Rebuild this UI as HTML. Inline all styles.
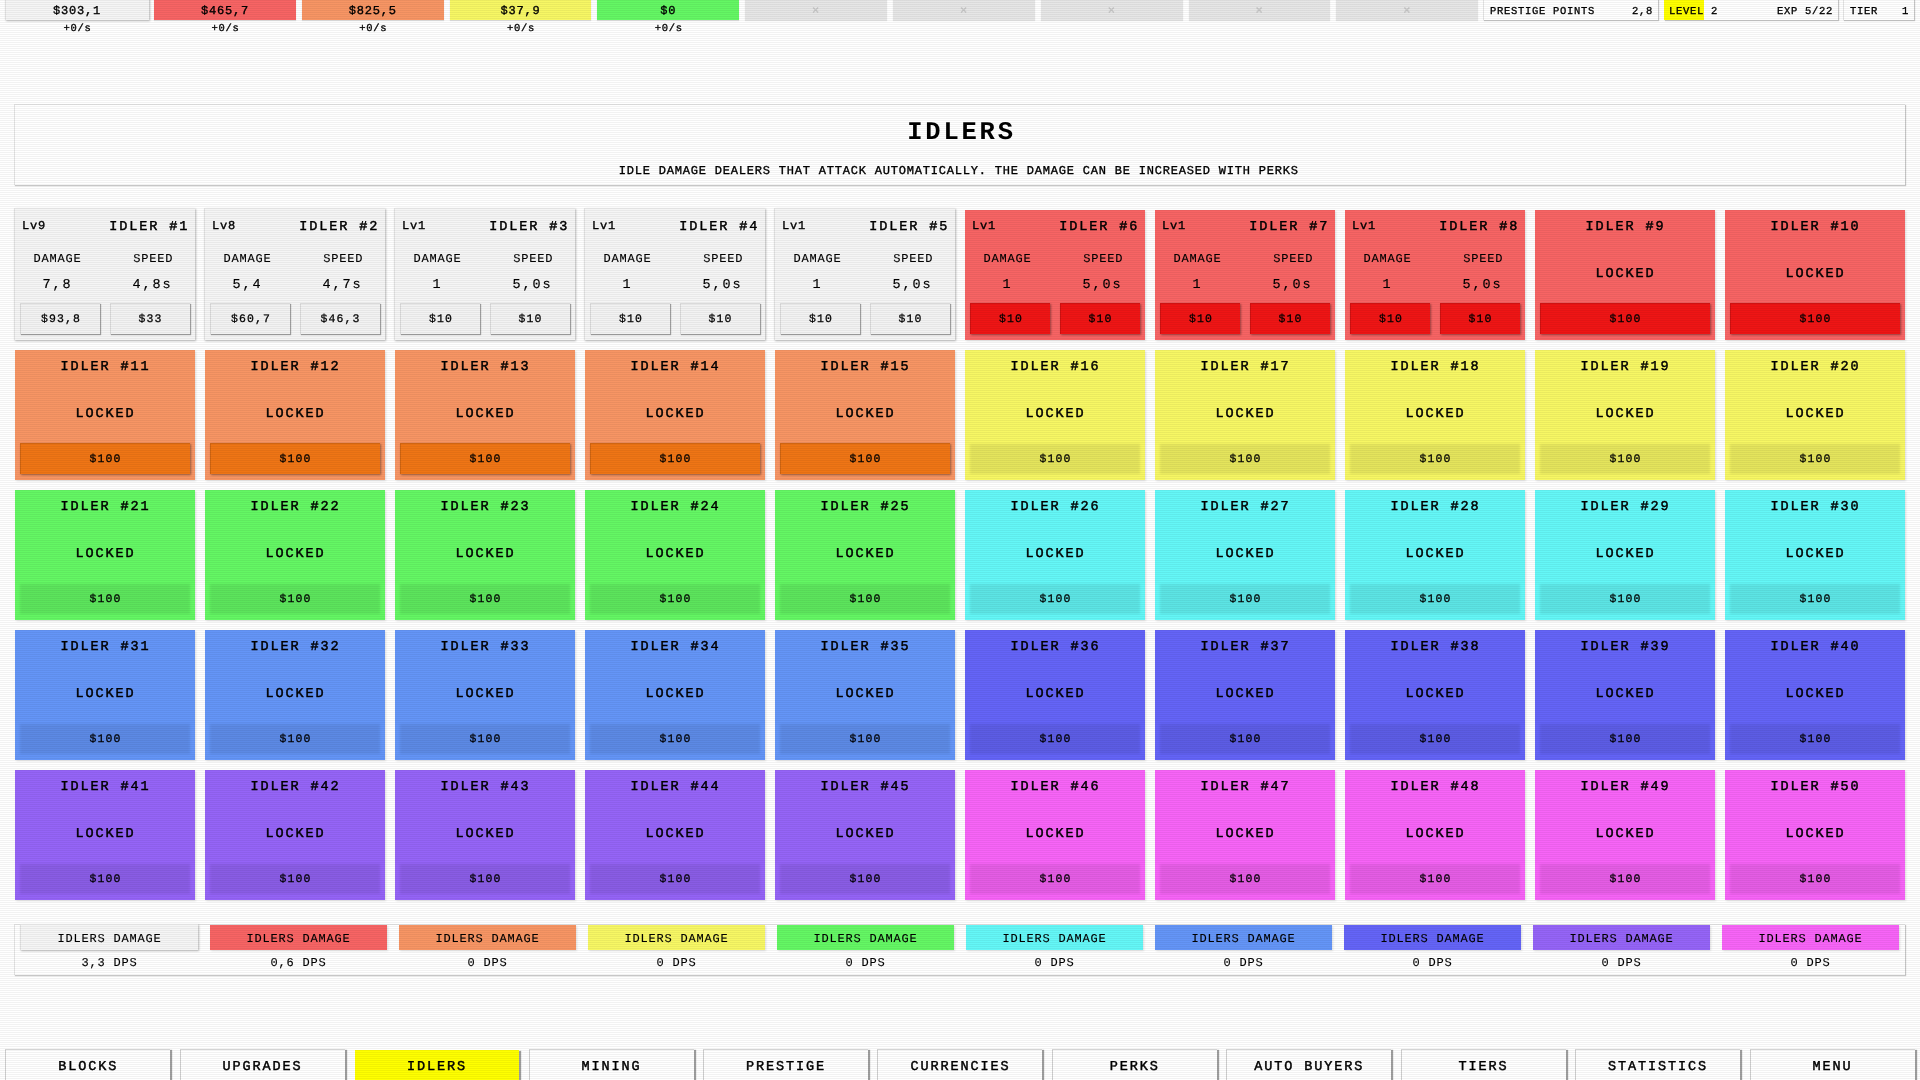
<!DOCTYPE html><html><head><meta charset="utf-8"><title>Idlers</title><style>
*{margin:0;padding:0;box-sizing:border-box}
html,body{width:1920px;height:1080px;overflow:hidden;background:#fff;font-family:"Liberation Mono", monospace;color:#000;text-rendering:geometricPrecision}
.wrap{position:absolute;left:0;top:0;width:1920px;height:1080px;will-change:transform;overflow:hidden}
.a{position:absolute}
.t{position:absolute;white-space:pre;line-height:1}
.n{font-size:12px;letter-spacing:0.8px;-webkit-text-stroke-width:0.35px}
.s{font-size:10.5px;letter-spacing:0.7px;-webkit-text-stroke-width:0.3px}
.h{font-size:13.5px;letter-spacing:1.9px;-webkit-text-stroke-width:0.45px}
.b{font-size:11.5px;letter-spacing:1.1px;-webkit-text-stroke-width:0.25px}
.l{font-size:12px;letter-spacing:0.8px;-webkit-text-stroke-width:0.12px}
.v{font-size:13.5px;letter-spacing:1.9px;-webkit-text-stroke-width:0.15px}
.c{text-align:center}
.scan{position:absolute;left:0;top:0;width:1920px;height:1080px;pointer-events:none;
 background:repeating-linear-gradient(to bottom, rgba(0,0,0,0.05) 0px, rgba(0,0,0,0.05) 1px, transparent 1px, transparent 2px)}
.wbox{background:#f5f5f5;border-left:1px solid #e2e2e2;border-top:1px solid #eeeeee;box-shadow:1px 1px 2px rgba(0,0,0,0.28)}
.pbox{background:#fff;border-left:1px solid #e4e4e4;border-top:1px solid #e4e4e4;box-shadow:1px 1px 1px rgba(0,0,0,0.22)}
.tab{background:#fff;border-left:1px solid #cfcfcf;border-top:1px solid #d4d4d4;box-shadow:2px 1px 1px rgba(0,0,0,0.38)}
.ccard{box-shadow:1px 1px 2px rgba(0,0,0,0.12)}
.dbtn{background:rgba(0,0,0,0.075);filter:blur(0.8px)}
.panel{background:#fff;border-left:1px solid #e4e4e4;border-top:1px solid #e4e4e4;box-shadow:1px 1px 1px rgba(0,0,0,0.22)}
.card{}
.btn{border-left:1px solid rgba(0,0,0,0.13);border-top:1px solid rgba(0,0,0,0.13);box-shadow:1px 1px 2px rgba(0,0,0,0.38)}
.wbtn{background:#f2f2f2;border-left:1px solid #dadada;border-top:1px solid #dadada;box-shadow:1px 1px 1px rgba(0,0,0,0.35)}
.lbtn{}
</style></head><body><div class="wrap"><div class="a wbox" style="left:5px;top:-4px;width:143.5px;height:24px"></div>
<div class="a" style="left:154.0px;top:-4px;width:141.8px;height:24px;background:#f76464;box-shadow:0 1px 1px rgba(0,0,0,0.12)"></div>
<div class="a" style="left:301.8px;top:-4px;width:141.8px;height:24px;background:#f79564;box-shadow:0 1px 1px rgba(0,0,0,0.12)"></div>
<div class="a" style="left:449.6px;top:-4px;width:141.8px;height:24px;background:#f7f764;box-shadow:0 1px 1px rgba(0,0,0,0.12)"></div>
<div class="a" style="left:597.4px;top:-4px;width:141.8px;height:24px;background:#64f764;box-shadow:0 1px 1px rgba(0,0,0,0.12)"></div>
<div class="a" style="left:745.2px;top:-4px;width:141.8px;height:24px;background:#e6e6e6;box-shadow:0 1px 1px rgba(0,0,0,0.1)"></div>
<div class="a" style="left:893.0px;top:-4px;width:141.8px;height:24px;background:#e6e6e6;box-shadow:0 1px 1px rgba(0,0,0,0.1)"></div>
<div class="a" style="left:1040.8px;top:-4px;width:141.8px;height:24px;background:#e6e6e6;box-shadow:0 1px 1px rgba(0,0,0,0.1)"></div>
<div class="a" style="left:1188.6px;top:-4px;width:141.8px;height:24px;background:#e6e6e6;box-shadow:0 1px 1px rgba(0,0,0,0.1)"></div>
<div class="a" style="left:1336.4px;top:-4px;width:141.8px;height:24px;background:#e6e6e6;box-shadow:0 1px 1px rgba(0,0,0,0.1)"></div>
<div class="t n c" style="left:5.0px;top:5px;width:144px;">$303,1</div>
<div class="t s c" style="left:5.5px;top:24px;width:144px;">+0/s</div>
<div class="t n c" style="left:154.0px;top:5px;width:141.8px;">$465,7</div>
<div class="t s c" style="left:154.5px;top:24px;width:141.8px;">+0/s</div>
<div class="t n c" style="left:301.8px;top:5px;width:141.8px;">$825,5</div>
<div class="t s c" style="left:302.3px;top:24px;width:141.8px;">+0/s</div>
<div class="t n c" style="left:449.6px;top:5px;width:141.8px;">$37,9</div>
<div class="t s c" style="left:450.1px;top:24px;width:141.8px;">+0/s</div>
<div class="t n c" style="left:597.4px;top:5px;width:141.8px;">$0</div>
<div class="t s c" style="left:597.9px;top:24px;width:141.8px;">+0/s</div>
<div class="t n c" style="left:745.2px;top:5px;width:141.8px;color:#c6c6c6">×</div>
<div class="t n c" style="left:893.0px;top:5px;width:141.8px;color:#c6c6c6">×</div>
<div class="t n c" style="left:1040.8px;top:5px;width:141.8px;color:#c6c6c6">×</div>
<div class="t n c" style="left:1188.6px;top:5px;width:141.8px;color:#c6c6c6">×</div>
<div class="t n c" style="left:1336.4px;top:5px;width:141.8px;color:#c6c6c6">×</div>
<div class="a pbox" style="left:1483px;top:-4px;width:175px;height:24px"></div>
<div class="t s" style="left:1490px;top:7px;">PRESTIGE POINTS</div>
<div class="t s" style="left:1632px;top:7px;">2,8</div>
<div class="a pbox" style="left:1664px;top:-4px;width:174px;height:24px"></div>
<div class="a" style="left:1664px;top:-4px;width:40px;height:24px;background:#ffff00"></div>
<div class="t s" style="left:1669px;top:7px;">LEVEL 2</div>
<div class="t s" style="left:1777px;top:7px;">EXP 5/22</div>
<div class="a pbox" style="left:1843px;top:-4px;width:71px;height:24px"></div>
<div class="t s" style="left:1850px;top:7px;">TIER</div>
<div class="t s" style="left:1902px;top:7px;">1</div>
<div class="a panel" style="left:14px;top:104px;width:1891px;height:81px"></div>
<div class="t h c" style="left:1.5px;top:120px;width:1920px;font-size:25.5px;letter-spacing:2.8px;font-weight:bold;-webkit-text-stroke:0">IDLERS</div>
<div class="t n c" style="left:-1.25px;top:165px;width:1920px;">IDLE DAMAGE DEALERS THAT ATTACK AUTOMATICALLY. THE DAMAGE CAN BE INCREASED WITH PERKS</div>
<div class="a wbox" style="left:14px;top:208px;width:181px;height:132px"></div>
<div class="t n" style="left:22px;top:220px;">Lv9</div>
<div class="t h c" style="left:15px;top:221px;width:174.2px;text-align:right">IDLER #1</div>
<div class="t l c" style="left:17.5px;top:253px;width:80px;">DAMAGE</div>
<div class="t l c" style="left:113.30000000000001px;top:253px;width:80px;">SPEED</div>
<div class="t v c" style="left:17.5px;top:279px;width:80px;">7,8</div>
<div class="t v c" style="left:112.5px;top:279px;width:80px;">4,8s</div>
<div class="a wbtn" style="left:20px;top:303px;width:80px;height:31px"></div>
<div class="t b c" style="left:21px;top:314px;width:80px;">$93,8</div>
<div class="a wbtn" style="left:109.5px;top:303px;width:80.5px;height:31px"></div>
<div class="t b c" style="left:110.5px;top:314px;width:80px;">$33</div>
<div class="a wbox" style="left:204px;top:208px;width:181px;height:132px"></div>
<div class="t n" style="left:212px;top:220px;">Lv8</div>
<div class="t h c" style="left:205px;top:221px;width:174.2px;text-align:right">IDLER #2</div>
<div class="t l c" style="left:207.5px;top:253px;width:80px;">DAMAGE</div>
<div class="t l c" style="left:303.3px;top:253px;width:80px;">SPEED</div>
<div class="t v c" style="left:207.5px;top:279px;width:80px;">5,4</div>
<div class="t v c" style="left:302.5px;top:279px;width:80px;">4,7s</div>
<div class="a wbtn" style="left:210px;top:303px;width:80px;height:31px"></div>
<div class="t b c" style="left:211px;top:314px;width:80px;">$60,7</div>
<div class="a wbtn" style="left:299.5px;top:303px;width:80.5px;height:31px"></div>
<div class="t b c" style="left:300.5px;top:314px;width:80px;">$46,3</div>
<div class="a wbox" style="left:394px;top:208px;width:181px;height:132px"></div>
<div class="t n" style="left:402px;top:220px;">Lv1</div>
<div class="t h c" style="left:395px;top:221px;width:174.2px;text-align:right">IDLER #3</div>
<div class="t l c" style="left:397.5px;top:253px;width:80px;">DAMAGE</div>
<div class="t l c" style="left:493.29999999999995px;top:253px;width:80px;">SPEED</div>
<div class="t v c" style="left:397.5px;top:279px;width:80px;">1</div>
<div class="t v c" style="left:492.5px;top:279px;width:80px;">5,0s</div>
<div class="a wbtn" style="left:400px;top:303px;width:80px;height:31px"></div>
<div class="t b c" style="left:401px;top:314px;width:80px;">$10</div>
<div class="a wbtn" style="left:489.5px;top:303px;width:80.5px;height:31px"></div>
<div class="t b c" style="left:490.5px;top:314px;width:80px;">$10</div>
<div class="a wbox" style="left:584px;top:208px;width:181px;height:132px"></div>
<div class="t n" style="left:592px;top:220px;">Lv1</div>
<div class="t h c" style="left:585px;top:221px;width:174.2px;text-align:right">IDLER #4</div>
<div class="t l c" style="left:587.5px;top:253px;width:80px;">DAMAGE</div>
<div class="t l c" style="left:683.3px;top:253px;width:80px;">SPEED</div>
<div class="t v c" style="left:587.5px;top:279px;width:80px;">1</div>
<div class="t v c" style="left:682.5px;top:279px;width:80px;">5,0s</div>
<div class="a wbtn" style="left:590px;top:303px;width:80px;height:31px"></div>
<div class="t b c" style="left:591px;top:314px;width:80px;">$10</div>
<div class="a wbtn" style="left:679.5px;top:303px;width:80.5px;height:31px"></div>
<div class="t b c" style="left:680.5px;top:314px;width:80px;">$10</div>
<div class="a wbox" style="left:774px;top:208px;width:181px;height:132px"></div>
<div class="t n" style="left:782px;top:220px;">Lv1</div>
<div class="t h c" style="left:775px;top:221px;width:174.2px;text-align:right">IDLER #5</div>
<div class="t l c" style="left:777.5px;top:253px;width:80px;">DAMAGE</div>
<div class="t l c" style="left:873.3px;top:253px;width:80px;">SPEED</div>
<div class="t v c" style="left:777.5px;top:279px;width:80px;">1</div>
<div class="t v c" style="left:872.5px;top:279px;width:80px;">5,0s</div>
<div class="a wbtn" style="left:780px;top:303px;width:80px;height:31px"></div>
<div class="t b c" style="left:781px;top:314px;width:80px;">$10</div>
<div class="a wbtn" style="left:869.5px;top:303px;width:80.5px;height:31px"></div>
<div class="t b c" style="left:870.5px;top:314px;width:80px;">$10</div>
<div class="a ccard" style="left:965px;top:210px;width:180px;height:130px;background:#f76464"></div>
<div class="t n" style="left:972px;top:220px;">Lv1</div>
<div class="t h c" style="left:965px;top:221px;width:174.2px;text-align:right">IDLER #6</div>
<div class="t l c" style="left:967.5px;top:253px;width:80px;">DAMAGE</div>
<div class="t l c" style="left:1063.3px;top:253px;width:80px;">SPEED</div>
<div class="t v c" style="left:967.5px;top:279px;width:80px;">1</div>
<div class="t v c" style="left:1062.5px;top:279px;width:80px;">5,0s</div>
<div class="a btn" style="left:970px;top:303px;width:80px;height:31px;background:#ef1515"></div>
<div class="t b c" style="left:971px;top:314px;width:80px;">$10</div>
<div class="a btn" style="left:1059.5px;top:303px;width:80.5px;height:31px;background:#ef1515"></div>
<div class="t b c" style="left:1060.5px;top:314px;width:80px;">$10</div>
<div class="a ccard" style="left:1155px;top:210px;width:180px;height:130px;background:#f76464"></div>
<div class="t n" style="left:1162px;top:220px;">Lv1</div>
<div class="t h c" style="left:1155px;top:221px;width:174.2px;text-align:right">IDLER #7</div>
<div class="t l c" style="left:1157.5px;top:253px;width:80px;">DAMAGE</div>
<div class="t l c" style="left:1253.3px;top:253px;width:80px;">SPEED</div>
<div class="t v c" style="left:1157.5px;top:279px;width:80px;">1</div>
<div class="t v c" style="left:1252.5px;top:279px;width:80px;">5,0s</div>
<div class="a btn" style="left:1160px;top:303px;width:80px;height:31px;background:#ef1515"></div>
<div class="t b c" style="left:1161px;top:314px;width:80px;">$10</div>
<div class="a btn" style="left:1249.5px;top:303px;width:80.5px;height:31px;background:#ef1515"></div>
<div class="t b c" style="left:1250.5px;top:314px;width:80px;">$10</div>
<div class="a ccard" style="left:1345px;top:210px;width:180px;height:130px;background:#f76464"></div>
<div class="t n" style="left:1352px;top:220px;">Lv1</div>
<div class="t h c" style="left:1345px;top:221px;width:174.2px;text-align:right">IDLER #8</div>
<div class="t l c" style="left:1347.5px;top:253px;width:80px;">DAMAGE</div>
<div class="t l c" style="left:1443.3px;top:253px;width:80px;">SPEED</div>
<div class="t v c" style="left:1347.5px;top:279px;width:80px;">1</div>
<div class="t v c" style="left:1442.5px;top:279px;width:80px;">5,0s</div>
<div class="a btn" style="left:1350px;top:303px;width:80px;height:31px;background:#ef1515"></div>
<div class="t b c" style="left:1351px;top:314px;width:80px;">$10</div>
<div class="a btn" style="left:1439.5px;top:303px;width:80.5px;height:31px;background:#ef1515"></div>
<div class="t b c" style="left:1440.5px;top:314px;width:80px;">$10</div>
<div class="a ccard" style="left:1535px;top:210px;width:180px;height:130px;background:#f76464"></div>
<div class="t h c" style="left:1535.6px;top:221px;width:180px;">IDLER #9</div>
<div class="t h c" style="left:1535.5px;top:268px;width:180px;">LOCKED</div>
<div class="a btn" style="left:1540px;top:303px;width:169.5px;height:31px;background:#ef1515"></div>
<div class="t b c" style="left:1540.5px;top:314px;width:170px;">$100</div>
<div class="a ccard" style="left:1725px;top:210px;width:180px;height:130px;background:#f76464"></div>
<div class="t h c" style="left:1725.6px;top:221px;width:180px;">IDLER #10</div>
<div class="t h c" style="left:1725.5px;top:268px;width:180px;">LOCKED</div>
<div class="a btn" style="left:1730px;top:303px;width:169.5px;height:31px;background:#ef1515"></div>
<div class="t b c" style="left:1730.5px;top:314px;width:170px;">$100</div>
<div class="a ccard" style="left:15px;top:350px;width:180px;height:130px;background:#f79564"></div>
<div class="t h c" style="left:15.6px;top:361px;width:180px;">IDLER #11</div>
<div class="t h c" style="left:15.5px;top:408px;width:180px;">LOCKED</div>
<div class="a btn" style="left:20px;top:443px;width:169.5px;height:31px;background:#ef7515"></div>
<div class="t b c" style="left:20.5px;top:454px;width:170px;">$100</div>
<div class="a ccard" style="left:205px;top:350px;width:180px;height:130px;background:#f79564"></div>
<div class="t h c" style="left:205.6px;top:361px;width:180px;">IDLER #12</div>
<div class="t h c" style="left:205.5px;top:408px;width:180px;">LOCKED</div>
<div class="a btn" style="left:210px;top:443px;width:169.5px;height:31px;background:#ef7515"></div>
<div class="t b c" style="left:210.5px;top:454px;width:170px;">$100</div>
<div class="a ccard" style="left:395px;top:350px;width:180px;height:130px;background:#f79564"></div>
<div class="t h c" style="left:395.6px;top:361px;width:180px;">IDLER #13</div>
<div class="t h c" style="left:395.5px;top:408px;width:180px;">LOCKED</div>
<div class="a btn" style="left:400px;top:443px;width:169.5px;height:31px;background:#ef7515"></div>
<div class="t b c" style="left:400.5px;top:454px;width:170px;">$100</div>
<div class="a ccard" style="left:585px;top:350px;width:180px;height:130px;background:#f79564"></div>
<div class="t h c" style="left:585.6px;top:361px;width:180px;">IDLER #14</div>
<div class="t h c" style="left:585.5px;top:408px;width:180px;">LOCKED</div>
<div class="a btn" style="left:590px;top:443px;width:169.5px;height:31px;background:#ef7515"></div>
<div class="t b c" style="left:590.5px;top:454px;width:170px;">$100</div>
<div class="a ccard" style="left:775px;top:350px;width:180px;height:130px;background:#f79564"></div>
<div class="t h c" style="left:775.6px;top:361px;width:180px;">IDLER #15</div>
<div class="t h c" style="left:775.5px;top:408px;width:180px;">LOCKED</div>
<div class="a btn" style="left:780px;top:443px;width:169.5px;height:31px;background:#ef7515"></div>
<div class="t b c" style="left:780.5px;top:454px;width:170px;">$100</div>
<div class="a ccard" style="left:965px;top:350px;width:180px;height:130px;background:#f7f764"></div>
<div class="t h c" style="left:965.6px;top:361px;width:180px;">IDLER #16</div>
<div class="t h c" style="left:965.5px;top:408px;width:180px;">LOCKED</div>
<div class="a dbtn" style="left:970px;top:444px;width:170px;height:30px"></div>
<div class="t b c" style="left:970.5px;top:454px;width:170px;">$100</div>
<div class="a ccard" style="left:1155px;top:350px;width:180px;height:130px;background:#f7f764"></div>
<div class="t h c" style="left:1155.6px;top:361px;width:180px;">IDLER #17</div>
<div class="t h c" style="left:1155.5px;top:408px;width:180px;">LOCKED</div>
<div class="a dbtn" style="left:1160px;top:444px;width:170px;height:30px"></div>
<div class="t b c" style="left:1160.5px;top:454px;width:170px;">$100</div>
<div class="a ccard" style="left:1345px;top:350px;width:180px;height:130px;background:#f7f764"></div>
<div class="t h c" style="left:1345.6px;top:361px;width:180px;">IDLER #18</div>
<div class="t h c" style="left:1345.5px;top:408px;width:180px;">LOCKED</div>
<div class="a dbtn" style="left:1350px;top:444px;width:170px;height:30px"></div>
<div class="t b c" style="left:1350.5px;top:454px;width:170px;">$100</div>
<div class="a ccard" style="left:1535px;top:350px;width:180px;height:130px;background:#f7f764"></div>
<div class="t h c" style="left:1535.6px;top:361px;width:180px;">IDLER #19</div>
<div class="t h c" style="left:1535.5px;top:408px;width:180px;">LOCKED</div>
<div class="a dbtn" style="left:1540px;top:444px;width:170px;height:30px"></div>
<div class="t b c" style="left:1540.5px;top:454px;width:170px;">$100</div>
<div class="a ccard" style="left:1725px;top:350px;width:180px;height:130px;background:#f7f764"></div>
<div class="t h c" style="left:1725.6px;top:361px;width:180px;">IDLER #20</div>
<div class="t h c" style="left:1725.5px;top:408px;width:180px;">LOCKED</div>
<div class="a dbtn" style="left:1730px;top:444px;width:170px;height:30px"></div>
<div class="t b c" style="left:1730.5px;top:454px;width:170px;">$100</div>
<div class="a ccard" style="left:15px;top:490px;width:180px;height:130px;background:#64f764"></div>
<div class="t h c" style="left:15.6px;top:501px;width:180px;">IDLER #21</div>
<div class="t h c" style="left:15.5px;top:548px;width:180px;">LOCKED</div>
<div class="a dbtn" style="left:20px;top:584px;width:170px;height:30px"></div>
<div class="t b c" style="left:20.5px;top:594px;width:170px;">$100</div>
<div class="a ccard" style="left:205px;top:490px;width:180px;height:130px;background:#64f764"></div>
<div class="t h c" style="left:205.6px;top:501px;width:180px;">IDLER #22</div>
<div class="t h c" style="left:205.5px;top:548px;width:180px;">LOCKED</div>
<div class="a dbtn" style="left:210px;top:584px;width:170px;height:30px"></div>
<div class="t b c" style="left:210.5px;top:594px;width:170px;">$100</div>
<div class="a ccard" style="left:395px;top:490px;width:180px;height:130px;background:#64f764"></div>
<div class="t h c" style="left:395.6px;top:501px;width:180px;">IDLER #23</div>
<div class="t h c" style="left:395.5px;top:548px;width:180px;">LOCKED</div>
<div class="a dbtn" style="left:400px;top:584px;width:170px;height:30px"></div>
<div class="t b c" style="left:400.5px;top:594px;width:170px;">$100</div>
<div class="a ccard" style="left:585px;top:490px;width:180px;height:130px;background:#64f764"></div>
<div class="t h c" style="left:585.6px;top:501px;width:180px;">IDLER #24</div>
<div class="t h c" style="left:585.5px;top:548px;width:180px;">LOCKED</div>
<div class="a dbtn" style="left:590px;top:584px;width:170px;height:30px"></div>
<div class="t b c" style="left:590.5px;top:594px;width:170px;">$100</div>
<div class="a ccard" style="left:775px;top:490px;width:180px;height:130px;background:#64f764"></div>
<div class="t h c" style="left:775.6px;top:501px;width:180px;">IDLER #25</div>
<div class="t h c" style="left:775.5px;top:548px;width:180px;">LOCKED</div>
<div class="a dbtn" style="left:780px;top:584px;width:170px;height:30px"></div>
<div class="t b c" style="left:780.5px;top:594px;width:170px;">$100</div>
<div class="a ccard" style="left:965px;top:490px;width:180px;height:130px;background:#64f7f7"></div>
<div class="t h c" style="left:965.6px;top:501px;width:180px;">IDLER #26</div>
<div class="t h c" style="left:965.5px;top:548px;width:180px;">LOCKED</div>
<div class="a dbtn" style="left:970px;top:584px;width:170px;height:30px"></div>
<div class="t b c" style="left:970.5px;top:594px;width:170px;">$100</div>
<div class="a ccard" style="left:1155px;top:490px;width:180px;height:130px;background:#64f7f7"></div>
<div class="t h c" style="left:1155.6px;top:501px;width:180px;">IDLER #27</div>
<div class="t h c" style="left:1155.5px;top:548px;width:180px;">LOCKED</div>
<div class="a dbtn" style="left:1160px;top:584px;width:170px;height:30px"></div>
<div class="t b c" style="left:1160.5px;top:594px;width:170px;">$100</div>
<div class="a ccard" style="left:1345px;top:490px;width:180px;height:130px;background:#64f7f7"></div>
<div class="t h c" style="left:1345.6px;top:501px;width:180px;">IDLER #28</div>
<div class="t h c" style="left:1345.5px;top:548px;width:180px;">LOCKED</div>
<div class="a dbtn" style="left:1350px;top:584px;width:170px;height:30px"></div>
<div class="t b c" style="left:1350.5px;top:594px;width:170px;">$100</div>
<div class="a ccard" style="left:1535px;top:490px;width:180px;height:130px;background:#64f7f7"></div>
<div class="t h c" style="left:1535.6px;top:501px;width:180px;">IDLER #29</div>
<div class="t h c" style="left:1535.5px;top:548px;width:180px;">LOCKED</div>
<div class="a dbtn" style="left:1540px;top:584px;width:170px;height:30px"></div>
<div class="t b c" style="left:1540.5px;top:594px;width:170px;">$100</div>
<div class="a ccard" style="left:1725px;top:490px;width:180px;height:130px;background:#64f7f7"></div>
<div class="t h c" style="left:1725.6px;top:501px;width:180px;">IDLER #30</div>
<div class="t h c" style="left:1725.5px;top:548px;width:180px;">LOCKED</div>
<div class="a dbtn" style="left:1730px;top:584px;width:170px;height:30px"></div>
<div class="t b c" style="left:1730.5px;top:594px;width:170px;">$100</div>
<div class="a ccard" style="left:15px;top:630px;width:180px;height:130px;background:#6495f7"></div>
<div class="t h c" style="left:15.6px;top:641px;width:180px;">IDLER #31</div>
<div class="t h c" style="left:15.5px;top:688px;width:180px;">LOCKED</div>
<div class="a dbtn" style="left:20px;top:724px;width:170px;height:30px"></div>
<div class="t b c" style="left:20.5px;top:734px;width:170px;">$100</div>
<div class="a ccard" style="left:205px;top:630px;width:180px;height:130px;background:#6495f7"></div>
<div class="t h c" style="left:205.6px;top:641px;width:180px;">IDLER #32</div>
<div class="t h c" style="left:205.5px;top:688px;width:180px;">LOCKED</div>
<div class="a dbtn" style="left:210px;top:724px;width:170px;height:30px"></div>
<div class="t b c" style="left:210.5px;top:734px;width:170px;">$100</div>
<div class="a ccard" style="left:395px;top:630px;width:180px;height:130px;background:#6495f7"></div>
<div class="t h c" style="left:395.6px;top:641px;width:180px;">IDLER #33</div>
<div class="t h c" style="left:395.5px;top:688px;width:180px;">LOCKED</div>
<div class="a dbtn" style="left:400px;top:724px;width:170px;height:30px"></div>
<div class="t b c" style="left:400.5px;top:734px;width:170px;">$100</div>
<div class="a ccard" style="left:585px;top:630px;width:180px;height:130px;background:#6495f7"></div>
<div class="t h c" style="left:585.6px;top:641px;width:180px;">IDLER #34</div>
<div class="t h c" style="left:585.5px;top:688px;width:180px;">LOCKED</div>
<div class="a dbtn" style="left:590px;top:724px;width:170px;height:30px"></div>
<div class="t b c" style="left:590.5px;top:734px;width:170px;">$100</div>
<div class="a ccard" style="left:775px;top:630px;width:180px;height:130px;background:#6495f7"></div>
<div class="t h c" style="left:775.6px;top:641px;width:180px;">IDLER #35</div>
<div class="t h c" style="left:775.5px;top:688px;width:180px;">LOCKED</div>
<div class="a dbtn" style="left:780px;top:724px;width:170px;height:30px"></div>
<div class="t b c" style="left:780.5px;top:734px;width:170px;">$100</div>
<div class="a ccard" style="left:965px;top:630px;width:180px;height:130px;background:#6464f7"></div>
<div class="t h c" style="left:965.6px;top:641px;width:180px;">IDLER #36</div>
<div class="t h c" style="left:965.5px;top:688px;width:180px;">LOCKED</div>
<div class="a dbtn" style="left:970px;top:724px;width:170px;height:30px"></div>
<div class="t b c" style="left:970.5px;top:734px;width:170px;">$100</div>
<div class="a ccard" style="left:1155px;top:630px;width:180px;height:130px;background:#6464f7"></div>
<div class="t h c" style="left:1155.6px;top:641px;width:180px;">IDLER #37</div>
<div class="t h c" style="left:1155.5px;top:688px;width:180px;">LOCKED</div>
<div class="a dbtn" style="left:1160px;top:724px;width:170px;height:30px"></div>
<div class="t b c" style="left:1160.5px;top:734px;width:170px;">$100</div>
<div class="a ccard" style="left:1345px;top:630px;width:180px;height:130px;background:#6464f7"></div>
<div class="t h c" style="left:1345.6px;top:641px;width:180px;">IDLER #38</div>
<div class="t h c" style="left:1345.5px;top:688px;width:180px;">LOCKED</div>
<div class="a dbtn" style="left:1350px;top:724px;width:170px;height:30px"></div>
<div class="t b c" style="left:1350.5px;top:734px;width:170px;">$100</div>
<div class="a ccard" style="left:1535px;top:630px;width:180px;height:130px;background:#6464f7"></div>
<div class="t h c" style="left:1535.6px;top:641px;width:180px;">IDLER #39</div>
<div class="t h c" style="left:1535.5px;top:688px;width:180px;">LOCKED</div>
<div class="a dbtn" style="left:1540px;top:724px;width:170px;height:30px"></div>
<div class="t b c" style="left:1540.5px;top:734px;width:170px;">$100</div>
<div class="a ccard" style="left:1725px;top:630px;width:180px;height:130px;background:#6464f7"></div>
<div class="t h c" style="left:1725.6px;top:641px;width:180px;">IDLER #40</div>
<div class="t h c" style="left:1725.5px;top:688px;width:180px;">LOCKED</div>
<div class="a dbtn" style="left:1730px;top:724px;width:170px;height:30px"></div>
<div class="t b c" style="left:1730.5px;top:734px;width:170px;">$100</div>
<div class="a ccard" style="left:15px;top:770px;width:180px;height:130px;background:#9564f7"></div>
<div class="t h c" style="left:15.6px;top:781px;width:180px;">IDLER #41</div>
<div class="t h c" style="left:15.5px;top:828px;width:180px;">LOCKED</div>
<div class="a dbtn" style="left:20px;top:864px;width:170px;height:30px"></div>
<div class="t b c" style="left:20.5px;top:874px;width:170px;">$100</div>
<div class="a ccard" style="left:205px;top:770px;width:180px;height:130px;background:#9564f7"></div>
<div class="t h c" style="left:205.6px;top:781px;width:180px;">IDLER #42</div>
<div class="t h c" style="left:205.5px;top:828px;width:180px;">LOCKED</div>
<div class="a dbtn" style="left:210px;top:864px;width:170px;height:30px"></div>
<div class="t b c" style="left:210.5px;top:874px;width:170px;">$100</div>
<div class="a ccard" style="left:395px;top:770px;width:180px;height:130px;background:#9564f7"></div>
<div class="t h c" style="left:395.6px;top:781px;width:180px;">IDLER #43</div>
<div class="t h c" style="left:395.5px;top:828px;width:180px;">LOCKED</div>
<div class="a dbtn" style="left:400px;top:864px;width:170px;height:30px"></div>
<div class="t b c" style="left:400.5px;top:874px;width:170px;">$100</div>
<div class="a ccard" style="left:585px;top:770px;width:180px;height:130px;background:#9564f7"></div>
<div class="t h c" style="left:585.6px;top:781px;width:180px;">IDLER #44</div>
<div class="t h c" style="left:585.5px;top:828px;width:180px;">LOCKED</div>
<div class="a dbtn" style="left:590px;top:864px;width:170px;height:30px"></div>
<div class="t b c" style="left:590.5px;top:874px;width:170px;">$100</div>
<div class="a ccard" style="left:775px;top:770px;width:180px;height:130px;background:#9564f7"></div>
<div class="t h c" style="left:775.6px;top:781px;width:180px;">IDLER #45</div>
<div class="t h c" style="left:775.5px;top:828px;width:180px;">LOCKED</div>
<div class="a dbtn" style="left:780px;top:864px;width:170px;height:30px"></div>
<div class="t b c" style="left:780.5px;top:874px;width:170px;">$100</div>
<div class="a ccard" style="left:965px;top:770px;width:180px;height:130px;background:#f764f7"></div>
<div class="t h c" style="left:965.6px;top:781px;width:180px;">IDLER #46</div>
<div class="t h c" style="left:965.5px;top:828px;width:180px;">LOCKED</div>
<div class="a dbtn" style="left:970px;top:864px;width:170px;height:30px"></div>
<div class="t b c" style="left:970.5px;top:874px;width:170px;">$100</div>
<div class="a ccard" style="left:1155px;top:770px;width:180px;height:130px;background:#f764f7"></div>
<div class="t h c" style="left:1155.6px;top:781px;width:180px;">IDLER #47</div>
<div class="t h c" style="left:1155.5px;top:828px;width:180px;">LOCKED</div>
<div class="a dbtn" style="left:1160px;top:864px;width:170px;height:30px"></div>
<div class="t b c" style="left:1160.5px;top:874px;width:170px;">$100</div>
<div class="a ccard" style="left:1345px;top:770px;width:180px;height:130px;background:#f764f7"></div>
<div class="t h c" style="left:1345.6px;top:781px;width:180px;">IDLER #48</div>
<div class="t h c" style="left:1345.5px;top:828px;width:180px;">LOCKED</div>
<div class="a dbtn" style="left:1350px;top:864px;width:170px;height:30px"></div>
<div class="t b c" style="left:1350.5px;top:874px;width:170px;">$100</div>
<div class="a ccard" style="left:1535px;top:770px;width:180px;height:130px;background:#f764f7"></div>
<div class="t h c" style="left:1535.6px;top:781px;width:180px;">IDLER #49</div>
<div class="t h c" style="left:1535.5px;top:828px;width:180px;">LOCKED</div>
<div class="a dbtn" style="left:1540px;top:864px;width:170px;height:30px"></div>
<div class="t b c" style="left:1540.5px;top:874px;width:170px;">$100</div>
<div class="a ccard" style="left:1725px;top:770px;width:180px;height:130px;background:#f764f7"></div>
<div class="t h c" style="left:1725.6px;top:781px;width:180px;">IDLER #50</div>
<div class="t h c" style="left:1725.5px;top:828px;width:180px;">LOCKED</div>
<div class="a dbtn" style="left:1730px;top:864px;width:170px;height:30px"></div>
<div class="t b c" style="left:1730.5px;top:874px;width:170px;">$100</div>
<div class="a panel" style="left:14px;top:924px;width:1891px;height:51px"></div>
<div class="a wbox" style="left:20px;top:924px;width:178px;height:26px"></div>
<div class="t l c" style="left:20.5px;top:933px;width:178px;">IDLERS DAMAGE</div>
<div class="t l c" style="left:20.5px;top:957px;width:178px;">3,3 DPS</div>
<div class="a ccard" style="left:210px;top:925px;width:177px;height:25px;background:#f76464"></div>
<div class="t l c" style="left:209.5px;top:933px;width:178px;">IDLERS DAMAGE</div>
<div class="t l c" style="left:209.5px;top:957px;width:178px;">0,6 DPS</div>
<div class="a ccard" style="left:399px;top:925px;width:177px;height:25px;background:#f79564"></div>
<div class="t l c" style="left:398.5px;top:933px;width:178px;">IDLERS DAMAGE</div>
<div class="t l c" style="left:398.5px;top:957px;width:178px;">0 DPS</div>
<div class="a ccard" style="left:588px;top:925px;width:177px;height:25px;background:#f7f764"></div>
<div class="t l c" style="left:587.5px;top:933px;width:178px;">IDLERS DAMAGE</div>
<div class="t l c" style="left:587.5px;top:957px;width:178px;">0 DPS</div>
<div class="a ccard" style="left:777px;top:925px;width:177px;height:25px;background:#64f764"></div>
<div class="t l c" style="left:776.5px;top:933px;width:178px;">IDLERS DAMAGE</div>
<div class="t l c" style="left:776.5px;top:957px;width:178px;">0 DPS</div>
<div class="a ccard" style="left:966px;top:925px;width:177px;height:25px;background:#64f7f7"></div>
<div class="t l c" style="left:965.5px;top:933px;width:178px;">IDLERS DAMAGE</div>
<div class="t l c" style="left:965.5px;top:957px;width:178px;">0 DPS</div>
<div class="a ccard" style="left:1155px;top:925px;width:177px;height:25px;background:#6495f7"></div>
<div class="t l c" style="left:1154.5px;top:933px;width:178px;">IDLERS DAMAGE</div>
<div class="t l c" style="left:1154.5px;top:957px;width:178px;">0 DPS</div>
<div class="a ccard" style="left:1344px;top:925px;width:177px;height:25px;background:#6464f7"></div>
<div class="t l c" style="left:1343.5px;top:933px;width:178px;">IDLERS DAMAGE</div>
<div class="t l c" style="left:1343.5px;top:957px;width:178px;">0 DPS</div>
<div class="a ccard" style="left:1533px;top:925px;width:177px;height:25px;background:#9564f7"></div>
<div class="t l c" style="left:1532.5px;top:933px;width:178px;">IDLERS DAMAGE</div>
<div class="t l c" style="left:1532.5px;top:957px;width:178px;">0 DPS</div>
<div class="a ccard" style="left:1722px;top:925px;width:177px;height:25px;background:#f764f7"></div>
<div class="t l c" style="left:1721.5px;top:933px;width:178px;">IDLERS DAMAGE</div>
<div class="t l c" style="left:1721.5px;top:957px;width:178px;">0 DPS</div>
<div class="a tab" style="left:5.2px;top:1049px;width:165px;height:40px"></div>
<div class="t h c" style="left:5.7px;top:1061px;width:165px;">BLOCKS</div>
<div class="a tab" style="left:179.6px;top:1049px;width:165px;height:40px"></div>
<div class="t h c" style="left:180.1px;top:1061px;width:165px;">UPGRADES</div>
<div class="a" style="left:354.6px;top:1050px;width:164px;height:40px;background:#ffff00;box-shadow:2px 1px 1px rgba(0,0,0,0.38)"></div>
<div class="t h c" style="left:354.6px;top:1061px;width:165px;">IDLERS</div>
<div class="a tab" style="left:528.5px;top:1049px;width:165px;height:40px"></div>
<div class="t h c" style="left:529.0px;top:1061px;width:165px;">MINING</div>
<div class="a tab" style="left:702.9px;top:1049px;width:165px;height:40px"></div>
<div class="t h c" style="left:703.4px;top:1061px;width:165px;">PRESTIGE</div>
<div class="a tab" style="left:877.4px;top:1049px;width:165px;height:40px"></div>
<div class="t h c" style="left:877.9px;top:1061px;width:165px;">CURRENCIES</div>
<div class="a tab" style="left:1051.8px;top:1049px;width:165px;height:40px"></div>
<div class="t h c" style="left:1052.3px;top:1061px;width:165px;">PERKS</div>
<div class="a tab" style="left:1226.2px;top:1049px;width:165px;height:40px"></div>
<div class="t h c" style="left:1226.7px;top:1061px;width:165px;">AUTO BUYERS</div>
<div class="a tab" style="left:1400.6px;top:1049px;width:165px;height:40px"></div>
<div class="t h c" style="left:1401.1px;top:1061px;width:165px;">TIERS</div>
<div class="a tab" style="left:1575.1px;top:1049px;width:165px;height:40px"></div>
<div class="t h c" style="left:1575.6px;top:1061px;width:165px;">STATISTICS</div>
<div class="a tab" style="left:1749.5px;top:1049px;width:165px;height:40px"></div>
<div class="t h c" style="left:1750.0px;top:1061px;width:165px;">MENU</div>
<div class="scan"></div></div></body></html>
